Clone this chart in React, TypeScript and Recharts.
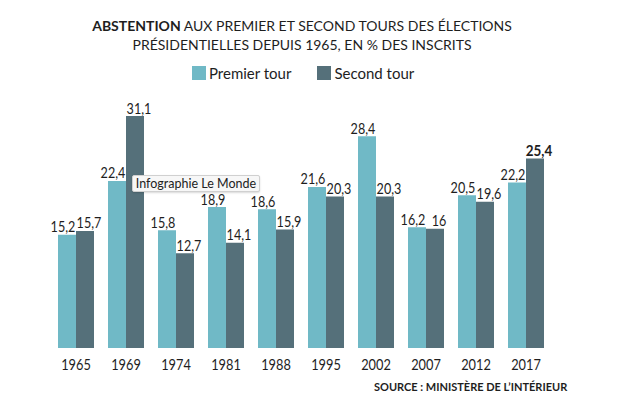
import React from "react";
import { BarChart, Bar, XAxis, YAxis, LabelList } from "recharts";

const years = ["1965", "1969", "1974", "1981", "1988", "1995", "2002", "2007", "2012", "2017"];
const premierTour = [15.2, 22.4, 15.8, 18.9, 18.6, 21.6, 28.4, 16.2, 20.5, 22.2];
const secondTour = [15.7, 31.1, 12.7, 14.1, 15.9, 20.3, 20.3, 16, 19.6, 25.4];

const data = years.map((y, i) => ({ year: y, premier: premierTour[i], second: secondTour[i] }));

const C1 = "#70b9c6";
const C2 = "#55707a";
const FONT = "Lato, 'Noto Sans', sans-serif";
const SQUEEZE = 0.84;

const fmt = (v: number) => String(v).replace(".", ",");

const Squeezed = ({ cx, cy, children, size = 15, weight = 400, sx = SQUEEZE }: any) => (
  <text
    transform={`translate(${cx},${cy}) scale(${sx},1)`}
    x={0}
    y={0}
    textAnchor="middle"
    fontFamily={FONT}
    fontSize={size}
    fontWeight={weight}
    fill="#1e1e1e"
  >
    {children}
  </text>
);

const SecondLabel = (props: any) => {
  const { x, y, width, value, index } = props;
  const bold = index === years.length - 1;
  return (
    <Squeezed cx={x + width / 2 + 4} cy={y - 2.5} size={bold ? 16 : 15} weight={bold ? 700 : 400}>
      {fmt(value)}
    </Squeezed>
  );
};

const PremierLabel = (props: any) => {
  const { x, y, width, value } = props;
  return (
    <Squeezed cx={x + width / 2 - 4} cy={y - 2.5}>
      {fmt(value)}
    </Squeezed>
  );
};

const YearTick = (props: any) => {
  const { x, y, payload } = props;
  return (
    <Squeezed cx={x} cy={y + 14} size={16} sx={0.8}>
      {payload.value}
    </Squeezed>
  );
};

export default function App() {
  return (
    <div style={{ position: "absolute", left: 0, top: 0, width: 639, height: 406, background: "#fff", fontFamily: FONT }}>
      <div style={{ position: "absolute", left: 0, top: 16, width: 604, textAlign: "center", fontSize: 14, lineHeight: "19px", color: "#1e1e1e" }}>
        <div><b>ABSTENTION</b> AUX PREMIER ET SECOND TOURS DES ÉLECTIONS</div>
        <div>PRÉSIDENTIELLES DEPUIS 1965, EN % DES INSCRITS</div>
      </div>
      <div style={{ position: "absolute", left: 192, top: 64, display: "flex", alignItems: "center", fontSize: 15, color: "#1e1e1e" }}>
        <span style={{ display: "inline-block", width: 14, height: 14, background: C1, marginRight: 3 }} />
        <span>Premier tour</span>
        <span style={{ display: "inline-block", width: 14, height: 14, background: C2, marginLeft: 26, marginRight: 3 }} />
        <span>Second tour</span>
      </div>
      <BarChart
        width={639}
        height={406}
        data={data}
        margin={{ top: 87, right: 88, bottom: 28, left: 51 }}
        barCategoryGap={7}
        barGap={0}
      >
        <YAxis hide domain={[0, 35]} width={0} />
        <XAxis
          dataKey="year"
          axisLine={false}
          tickLine={false}
          height={30}
          interval={0}
          tick={YearTick}
        />
        <Bar dataKey="premier" fill={C1} isAnimationActive={false}>
          <LabelList dataKey="premier" content={PremierLabel} />
        </Bar>
        <Bar dataKey="second" fill={C2} isAnimationActive={false}>
          <LabelList dataKey="second" content={SecondLabel} />
        </Bar>
      </BarChart>
      <div
        style={{
          position: "absolute",
          left: 132,
          top: 175,
          width: 126,
          height: 15,
          background: "#f7f7f7",
          border: "1px solid #d0d0d0",
          borderRadius: 2,
          boxShadow: "0 1px 2px rgba(0,0,0,0.15)",
          fontSize: 12.5,
          lineHeight: "15px",
          textAlign: "center",
          color: "#222",
        }}
      >
        Infographie Le Monde
      </div>
      <div style={{ position: "absolute", left: 374, top: 380, fontSize: 11, fontWeight: 700, color: "#1e1e1e" }}>
        SOURCE : MINISTÈRE DE L’INTÉRIEUR
      </div>
    </div>
  );
}
